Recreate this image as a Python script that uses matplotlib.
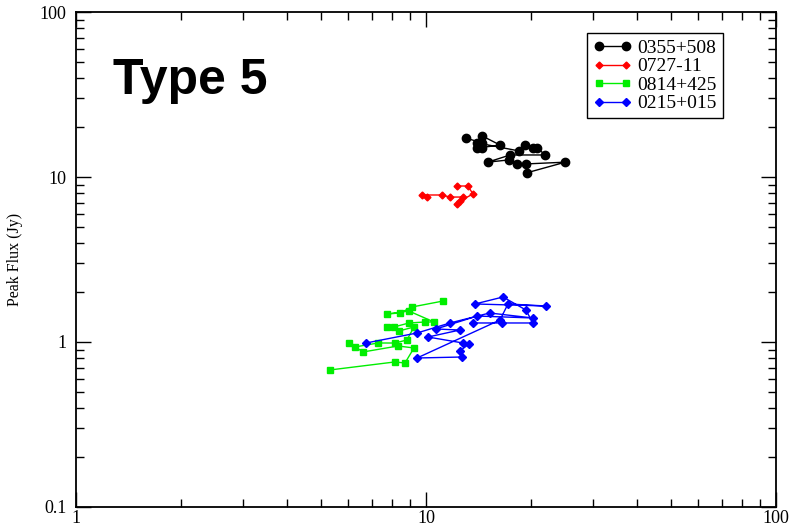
import matplotlib
matplotlib.use('Agg')
import matplotlib.pyplot as plt
from matplotlib.ticker import LogLocator, FuncFormatter, NullFormatter

# source names and (frequency-ish x, peak flux y) tracks
names = ['0355+508', '0727-11', '0814+425', '0215+015']

x_0355 = [13.0, 14.5, 14.5, 16.3, 14.0, 14.5, 14.0, 18.4, 19.2, 20.2, 20.8, 21.9,
          17.4, 15.0, 17.3, 18.2, 19.3, 25.0, 19.4]
y_0355 = [17.2, 16.1, 17.7, 15.6, 15.0, 15.0, 16.1, 14.4, 15.6, 15.0, 15.0, 13.6,
          13.6, 12.3, 12.7, 12.0, 12.0, 12.3, 10.6]

x_0727 = [12.27, 13.18, 13.62, 12.5, 12.27, 12.76, 11.7, 11.11, 9.74, 10.07]
y_0727 = [8.82, 8.82, 7.89, 7.15, 6.86, 7.56, 7.56, 7.78, 7.78, 7.56]

x_0814 = [5.32, 8.15, 8.71, 9.24, 8.32, 6.61, 6.03, 6.27, 7.29, 8.15, 8.82, 9.24,
          8.37, 7.74, 8.1, 8.94, 9.93, 10.54, 8.94, 7.74, 8.43, 9.12, 11.2]
y_0814 = [0.677, 0.757, 0.746, 0.92, 0.946, 0.870, 0.986, 0.933, 0.986, 0.986, 1.028, 1.233,
          1.166, 1.233, 1.233, 1.304, 1.322, 1.322, 1.54, 1.478, 1.499, 1.63, 1.772]

x_0215 = [6.74, 9.43, 11.71, 15.2, 20.2, 14.0, 10.68, 12.5, 10.13, 12.76, 13.27, 12.5,
          12.67, 9.43, 16.27, 17.15, 22.0, 13.8, 16.6, 19.3, 20.2, 16.5, 13.6]
y_0215 = [0.986, 1.134, 1.304, 1.499, 1.398, 1.437, 1.199, 1.182, 1.072, 0.986, 0.972, 0.882,
          0.811, 0.800, 1.359, 1.70, 1.653, 1.70, 1.874, 1.563, 1.304, 1.304, 1.304]

plt.rcParams['font.family'] = ['Liberation Serif', 'DejaVu Serif']

fig = plt.figure(figsize=(7.94, 5.29), dpi=100)
ax = fig.add_axes([0.0957, 0.0416, 0.8816, 0.9357])

ax.plot(x_0355, y_0355, color='black', marker='o', markersize=6, lw=1, label=names[0])
ax.plot(x_0727, y_0727, color='red', marker='D', markersize=3.5, lw=1, label=names[1])
ax.plot(x_0814, y_0814, color='#00ee00', marker='s', markersize=4.5, lw=1, label=names[2])
ax.plot(x_0215, y_0215, color='blue', marker='D', markersize=4.5, lw=1, label=names[3])

ax.set_xscale('log')
ax.set_yscale('log')
ax.set_xlim(1, 100)
ax.set_ylim(0.1, 100)

fmt = FuncFormatter(lambda v, p: '%g' % v)
for axis in (ax.xaxis, ax.yaxis):
    axis.set_major_locator(LogLocator(base=10))
    axis.set_minor_locator(LogLocator(base=10, subs=range(2, 10)))
    axis.set_major_formatter(fmt)
    axis.set_minor_formatter(NullFormatter())

ax.tick_params(which='both', direction='in', top=True, right=True, width=1, labelsize=13)
ax.tick_params(which='major', length=11)
ax.tick_params(which='minor', length=6)
ax.tick_params(axis='y', which='major', pad=7)
ax.tick_params(axis='x', which='major', pad=2)
for s in ax.spines.values():
    s.set_linewidth(1.3)

ax.set_ylabel('Peak Flux (Jy)', fontsize=11.5, labelpad=12)

ax.text(0.053, 0.835, 'Type 5', transform=ax.transAxes, family='Liberation Sans',
        fontweight='bold', fontsize=36, va='baseline', ha='left')

leg = ax.legend(loc='upper left', bbox_to_anchor=(0.73, 0.957), numpoints=2, fontsize=14,
                frameon=True, fancybox=False, framealpha=1, edgecolor='black',
                handlelength=2.0, handletextpad=0.3, labelspacing=0.05, borderpad=0.3,
                borderaxespad=0)
leg.get_frame().set_linewidth(1)

fig.savefig('out.png', dpi=100)
